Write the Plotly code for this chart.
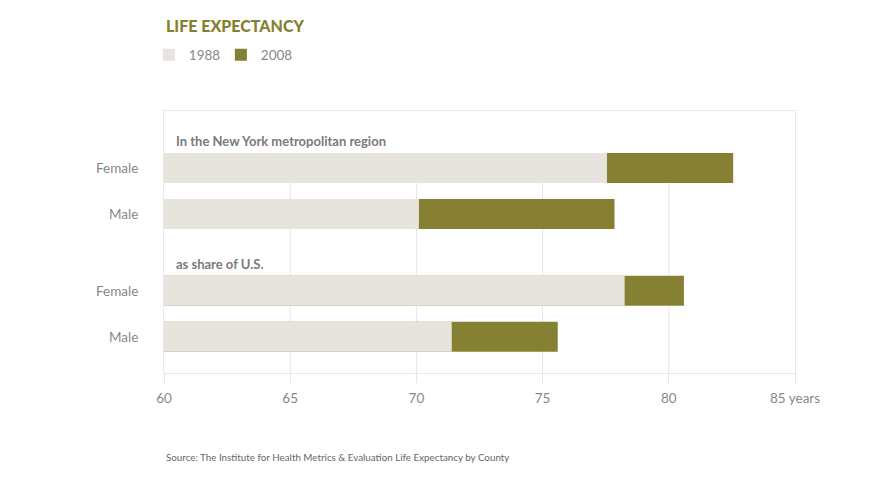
import plotly.graph_objects as go

# data
groups = ["In the New York metropolitan region", "as share of U.S."]
sexes = ["Female", "Male"]
life_1988 = [[77.55, 70.1], [78.25, 71.4]]
life_2008 = [[82.55, 77.85], [80.6, 75.6]]
tick_vals = [60, 65, 70, 75, 80, 85]
tick_text = ["60", "65", "70", "75", "80", "85 years"]

light = "#E7E4DD"
olive = "#868033"
grey = "#888888"
font = "Lato"

# page body adds an 8px offset, so the figure is drawn a bit smaller
W, H = 870, 472
ml, mt, mr, mb = 156, 103, 83, 107
plot_h = H - mt - mb

# row layout: each group is a header then two rows
group_step = 2.67
bar_w = 0.652

ys, labels, v88, v08 = [], [], [], []
for g in range(len(groups)):
    for r, s in enumerate(sexes):
        ys.append(g * group_step + r)
        labels.append(s)
        v88.append(life_1988[g][r])
        v08.append(life_2008[g][r])

fig = go.Figure()
fig.add_trace(go.Bar(x=v08, y=ys, orientation="h", name="2008", width=bar_w,
                     marker=dict(color=olive, line_width=0), legendrank=2))
fig.add_trace(go.Bar(x=v88, y=ys, orientation="h", name="1988", width=bar_w,
                     marker=dict(color=light, line_width=0), legendrank=1))

y_top = -1.239
y_bot = 4.457

# gridlines only run below the top of the first bar
for v in tick_vals[1:-1]:
    fig.add_shape(type="line", x0=v, x1=v, y0=y_bot, y1=ys[0] - bar_w / 2,
                  xref="x", yref="y", line=dict(color="#E6E6E6", width=1),
                  layer="below")

for g, name in enumerate(groups):
    fig.add_annotation(text="<b>" + name + "</b>", x=0.016, xref="paper",
                       y=g * group_step - 0.59, yref="y", xanchor="left",
                       yanchor="middle", showarrow=False,
                       font=dict(family=font, size=13, color="#7A7A7A"))

fig.add_annotation(text="LIFE EXPECTANCY", x=0, y=1 + (mt - 18) / plot_h,
                   xref="paper", yref="paper", xanchor="left", yanchor="middle",
                   showarrow=False,
                   font=dict(family=font, size=16, color="#857F2F", weight=900))

fig.add_annotation(text="Source: The Institute for Health Metrics &amp; Evaluation Life Expectancy by County",
                   x=0, y=-(449 - (H - mb)) / plot_h, xref="paper", yref="paper",
                   xanchor="left", yanchor="middle", showarrow=False,
                   font=dict(family=font, size=9.8, color="#666666"))

fig.update_layout(
    width=W, height=H,
    margin=dict(l=ml, r=mr, t=mt, b=mb),
    barmode="overlay",
    plot_bgcolor="white", paper_bgcolor="white",
    font=dict(family=font, size=13, color=grey),
    legend=dict(orientation="h", x=-0.024, y=1 + (mt - 47) / plot_h,
                xanchor="left", yanchor="middle",
                font=dict(family=font, size=13.5, color=grey),
                itemwidth=30, entrywidth=27, entrywidthmode="pixels"),
    xaxis=dict(range=[60, 85], tickvals=tick_vals, ticktext=tick_text,
               showgrid=False, zeroline=False, showline=True, linecolor="#E8E8E8",
               linewidth=1, mirror=True, ticks="outside", ticklen=9,
               tickcolor="#E6E6E6", ticklabelstandoff=4,
               tickfont=dict(size=13.5, color=grey)),
    yaxis=dict(range=[y_bot, y_top], tickvals=ys, ticktext=labels,
               showgrid=False, zeroline=False, showline=True, linecolor="#E8E8E8",
               mirror=True, ticks="", ticklabelstandoff=22,
               tickfont=dict(size=13.5, color=grey)),
)

fig.write_html("out.html")
